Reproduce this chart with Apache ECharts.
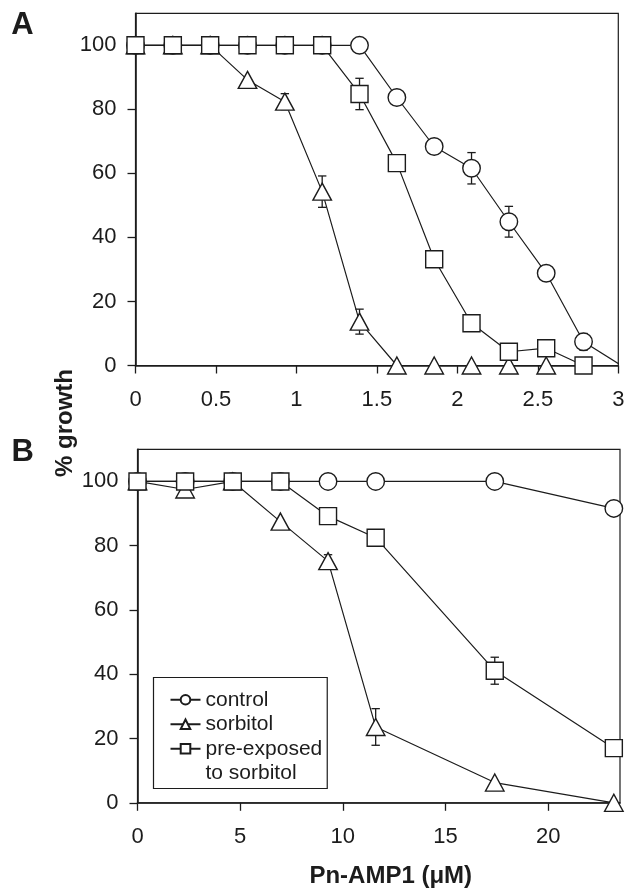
<!DOCTYPE html>
<html>
<head>
<meta charset="utf-8">
<script src="https://cdn.jsdelivr.net/npm/echarts@6/dist/echarts.min.js"></script>
<style>
html,body{margin:0;padding:0;background:#fff;}
#chart{width:637px;height:894px;}
</style>
</head>
<body>
<div id="chart"></div>
<script>
// ---------- Panel A ----------
const xA = [0, 0.232, 0.464, 0.696, 0.928, 1.16, 1.392, 1.624, 1.856, 2.088, 2.32, 2.552, 2.784];
const controlA   = [100, 100, 100, 100, 100, 100, 100, 83.7, 68.4, 61.6, 44.9, 28.8, 7.4];
const controlA_end = [3.02, 0];           // last reading, just past the axis end (line runs off the frame)
const sorbitolA  = [100, 100, 100, 89.2, 82.4, 54.3, 13.7, 0, 0, 0, 0, 0];
const preExpA    = [100, 100, 100, 100, 100, 100, 84.8, 63.2, 33.2, 13.2, 4.3, 5.4, 0];
const errControlA  = [0, 0, 0, 0, 0, 0, 0, 0, 0, 4.9, 4.8, 0, 2.6];
const errSorbitolA = [0, 0, 0, 0, 2.5, 4.9, 3.9, 0, 0, 0, 0, 0];
const errPreExpA   = [0, 0, 0, 0, 2.2, 0, 4.9, 0, 1.0, 0, 0, 0, 0];
const xTicksA = [0, 0.5, 1, 1.5, 2, 2.5, 3];

// ---------- Panel B ----------
const xB = [0, 2.32, 4.64, 6.96, 9.28, 11.6, 17.4, 23.2];
const controlB  = [100, 100, 100, 100, 100, 100, 100, 91.6];
const sorbitolB = [100, 97.5, 100, 87.5, 75.2, 23.6, 6.3, 0];
const preExpB   = [100, 100, 100, 100, 89.2, 82.5, 41.1, 17.0];
const errControlB  = [0, 0, 0, 0, 0, 0, 0, 0];
const errSorbitolB = [0, 0, 0, 0, 2.0, 5.7, 0, 0];
const errPreExpB   = [0, 0, 0, 0, 2.0, 0, 4.2, 2.5];
const xTicksB = [0, 5, 10, 15, 20];

const yTicks = [0, 20, 40, 60, 80, 100];
const names = ['control', 'sorbitol', 'pre-exposed to sorbitol'];

// ---------- styling ----------
const INK = '#1c1c1c';
const FONT = '"Liberation Sans", Arial, Helvetica, sans-serif';
const symbols = ['circle', 'triangle', 'rect'];
const symbolSizes = [17.5, [18.5, 17], 17];

function pairs(xs, ys) { return ys.map((v, i) => [xs[i], v]); }
function errData(xs, ys, es) {
  const out = [];
  ys.forEach((v, i) => { if (es[i] > 0) out.push([xs[i], v, es[i]]); });
  return out;
}

function lineSeries(idx, data, g) {
  return {
    type: 'line', name: names[idx], xAxisIndex: g, yAxisIndex: g,
    data: data, symbol: symbols[idx], symbolSize: symbolSizes[idx],
    showAllSymbol: true, clip: true, z: 3,
    lineStyle: { color: INK, width: 1.2 },
    itemStyle: { color: '#fff', borderColor: INK, borderWidth: 1.4 },
    emphasis: { disabled: true }, silent: true
  };
}

function errSeries(data, g) {
  return {
    type: 'custom', xAxisIndex: g, yAxisIndex: g, z: 2, silent: true,
    encode: { x: 0, y: 1 },
    data: data,
    renderItem: function (params, api) {
      const x = api.value(0), y = api.value(1), e = api.value(2);
      const t = api.coord([x, y + e]), b = api.coord([x, y - e]);
      const h = 4.2;
      const st = { stroke: INK, lineWidth: 1.3 };
      return {
        type: 'group', children: [
          { type: 'line', shape: { x1: t[0], y1: t[1], x2: b[0], y2: b[1] }, style: st },
          { type: 'line', shape: { x1: t[0] - h, y1: t[1], x2: t[0] + h, y2: t[1] }, style: st },
          { type: 'line', shape: { x1: b[0] - h, y1: b[1], x2: b[0] + h, y2: b[1] }, style: st }
        ]
      };
    }
  };
}

const axisCommon = {
  type: 'value',
  axisLine: { show: true, onZero: false, lineStyle: { color: INK, width: 1.6 } },
  axisTick: { show: true, length: 8, lineStyle: { color: INK, width: 1.3 } },
  splitLine: { show: false },
  axisLabel: { color: INK, fontSize: 22, fontFamily: FONT }
};

function xAxisDef(g, max, ticks, extra) {
  return Object.assign({}, axisCommon, {
    gridIndex: g, min: 0, max: max,
    axisTick: Object.assign({}, axisCommon.axisTick, { customValues: ticks }),
    axisLabel: Object.assign({}, axisCommon.axisLabel, { margin: 23, customValues: ticks })
  }, extra || {});
}
function yAxisDef(g) {
  return Object.assign({}, axisCommon, {
    gridIndex: g, min: 0, max: 110,
    axisTick: Object.assign({}, axisCommon.axisTick, { customValues: yTicks }),
    axisLabel: Object.assign({}, axisCommon.axisLabel, { margin: 19, customValues: yTicks })
  });
}

const controlAData = pairs(xA, controlA);
controlAData.push({ value: controlA_end, symbol: 'none' });

const option = {
  animation: false,
  backgroundColor: '#fff',
  textStyle: { fontFamily: FONT, color: INK },
  grid: [
    { left: 135.5, top: 13.3, width: 482.8, height: 352.2, show: true, borderColor: INK, borderWidth: 1.2, backgroundColor: 'transparent' },
    { left: 137.5, top: 449.3, width: 482.5, height: 353.5, show: true, borderColor: INK, borderWidth: 1.2, backgroundColor: 'transparent' }
  ],
  xAxis: [
    xAxisDef(0, 3, xTicksA),
    xAxisDef(1, 23.5, xTicksB, {
      name: 'Pn-AMP1 (μM)', nameLocation: 'middle', nameGap: 62,
      nameTextStyle: { fontSize: 24, fontWeight: 'bold', color: INK, fontFamily: FONT, padding: [0, 0, 0, 24] }
    })
  ],
  yAxis: [yAxisDef(0), yAxisDef(1)],
  legend: {
    orient: 'vertical', left: 153.5, top: 677.5,
    itemWidth: 30, itemHeight: 12, itemGap: 0,
    padding: [10, 5, 3, 16],
    borderColor: INK, borderWidth: 1.2, backgroundColor: '#fff',
    selectedMode: false,
    textStyle: { fontSize: 21, lineHeight: 24.5, color: INK, fontFamily: FONT },
    formatter: function (n) { return n === 'pre-exposed to sorbitol' ? 'pre-exposed' : n; },
    data: ['control', 'sorbitol', 'pre-exposed to sorbitol',
      { name: 'to sorbitol', itemStyle: { opacity: 0 }, lineStyle: { opacity: 0 } }]
  },
  graphic: [
    { type: 'text', x: 22.5, y: 25, style: { text: 'A', font: 'bold 31px ' + FONT, fill: INK, align: 'center', verticalAlign: 'middle' } },
    { type: 'text', x: 22.7, y: 452, style: { text: 'B', font: 'bold 31px ' + FONT, fill: INK, align: 'center', verticalAlign: 'middle' } },
    { type: 'text', x: 65, y: 423, rotation: Math.PI / 2, style: { text: '% growth', font: 'bold 24px ' + FONT, fill: INK, align: 'center', verticalAlign: 'middle' } }
  ],
  series: [
    errSeries(errData(xA, controlA, errControlA), 0),
    errSeries(errData(xA, sorbitolA, errSorbitolA), 0),
    errSeries(errData(xA, preExpA, errPreExpA), 0),
    lineSeries(0, controlAData, 0),
    lineSeries(1, pairs(xA, sorbitolA), 0),
    lineSeries(2, pairs(xA, preExpA), 0),
    errSeries(errData(xB, controlB, errControlB), 1),
    errSeries(errData(xB, sorbitolB, errSorbitolB), 1),
    errSeries(errData(xB, preExpB, errPreExpB), 1),
    lineSeries(0, pairs(xB, controlB), 1),
    lineSeries(1, pairs(xB, sorbitolB), 1),
    lineSeries(2, pairs(xB, preExpB), 1),
    { type: 'line', name: 'to sorbitol', xAxisIndex: 1, yAxisIndex: 1, data: [], symbol: 'none',
      lineStyle: { opacity: 0 }, itemStyle: { opacity: 0 }, silent: true }
  ]
};

const chart = echarts.init(document.getElementById('chart'), null, { renderer: 'canvas' });
chart.setOption(option);
</script>
</body>
</html>
